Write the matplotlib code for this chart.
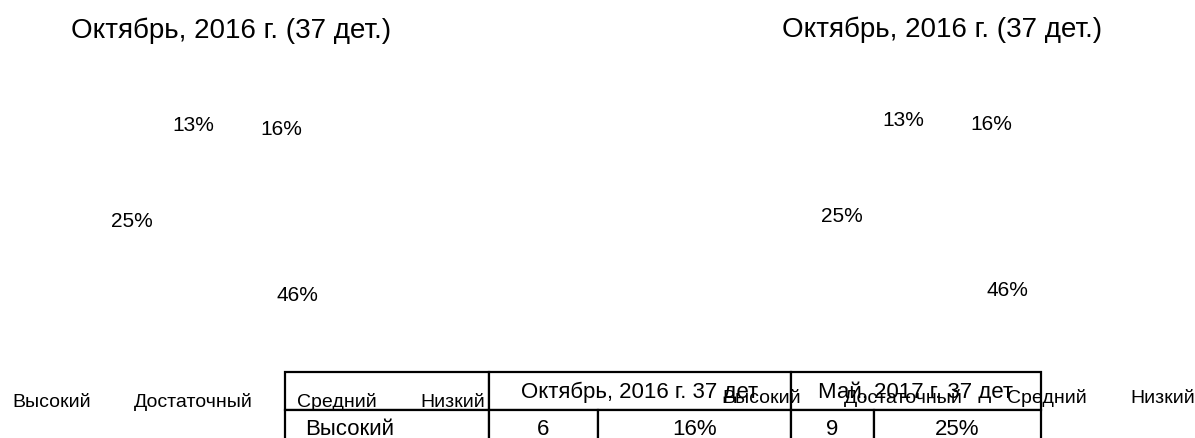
import matplotlib
matplotlib.use('Agg')
import matplotlib.pyplot as plt

# data
levels = ['Высокий', 'Достаточный', 'Средний', 'Низкий']
oct_pct = [16, 46, 25, 13]
titles = ['Октябрь, 2016 г. (37 дет.)', 'Октябрь, 2016 г. (37 дет.)']

table_header = ['', 'Октябрь, 2016 г. 37 дет', 'Май, 2017 г. 37 дет']
table_rows = ['Высокий']
oct_counts = ['6']
oct_shares = ['16%']
may_counts = ['9']
may_shares = ['25%']

plt.rcParams['font.family'] = ['Liberation Sans', 'DejaVu Sans']

W, H = 1195, 439
fig = plt.figure(figsize=(W / 100, H / 100), dpi=100)


def px_box(cx, cy, w, h):
    # pixel centre/size -> figure fraction rect
    return [(cx - w / 2) / W, (H - cy - h / 2) / H, w / W, h / H]


pie_centres = [(233, 218), (943, 213)]
title_pos = [(231, 31), (942, 30)]
legend_left = [12, 722]
legend_y = [402, 398]

for i, (cx, cy) in enumerate(pie_centres):
    ax = fig.add_axes(px_box(cx, cy, 250, 250))
    wedges, _, autotexts = ax.pie(oct_pct, colors=['white'] * 4, startangle=90,
                                  counterclock=False, autopct='%.0f%%',
                                  pctdistance=1.01,
                                  wedgeprops=dict(linewidth=0),
                                  textprops=dict(fontsize=15))
    ax.set_xlim(-1.25, 1.25)
    ax.set_ylim(-1.25, 1.25)
    fig.text(title_pos[i][0] / W, 1 - title_pos[i][1] / H, titles[i],
             ha='center', va='center', fontsize=20)
    leg = fig.legend(wedges, levels, loc='center left', ncol=4,
                     bbox_to_anchor=(legend_left[i] / W, 1 - legend_y[i] / H),
                     frameon=False, fontsize=14, handlelength=0,
                     handletextpad=0, columnspacing=2.25,
                     borderpad=0, borderaxespad=0)
    leg.set_zorder(5)

# table: header row over the body row, body runs past the bottom edge
tax = fig.add_axes([285 / W, (H - 449) / H, (1041 - 285) / W, 76 / H])
tax.axis('off')
tax.set_zorder(2)

head = tax.table(cellText=[table_header], colWidths=[204, 302, 250],
                 cellLoc='center', bbox=[0, 0.5, 1, 0.5])
body_text = [[table_rows[k], oct_counts[k], oct_shares[k], may_counts[k], may_shares[k]]
             for k in range(len(table_rows))]
body = tax.table(cellText=body_text, colWidths=[204, 109, 193, 83, 167],
                 cellLoc='center', bbox=[0, 0, 1, 0.5])
for t in (head, body):
    t.auto_set_font_size(False)
    t.set_fontsize(16)
    for cell in t.get_celld().values():
        cell.set_linewidth(1.6)
        cell.set_edgecolor('black')
body[0, 0]._loc = 'left'
body[0, 0].get_text().set_ha('left')

fig.savefig('out.png', dpi=100)
